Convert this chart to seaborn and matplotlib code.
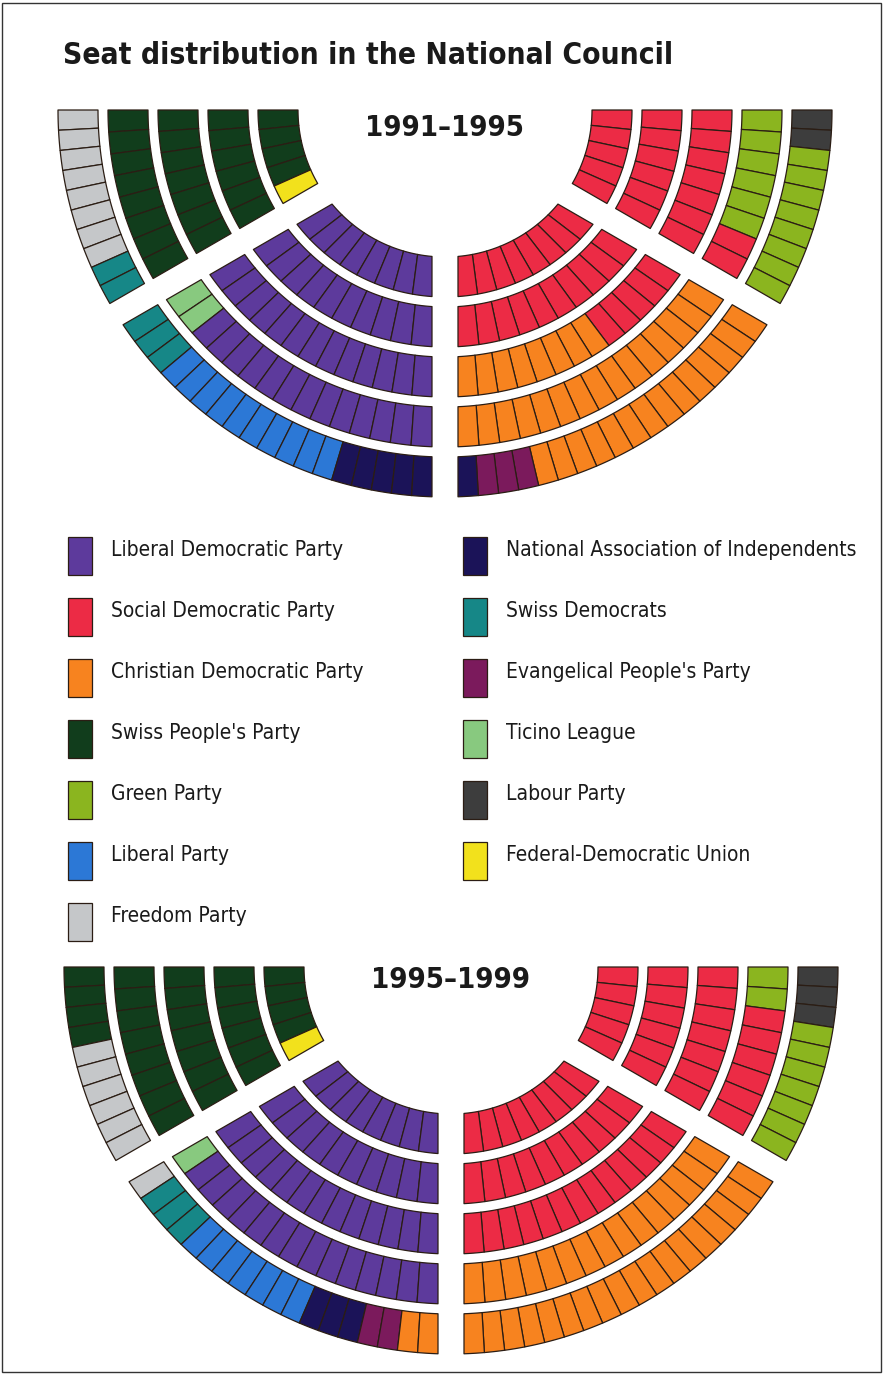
"""
Seat distribution in the Swiss National Council, 1991-1995 and 1995-1999
"""

import numpy as np
import matplotlib
matplotlib.use("Agg")
import matplotlib.pyplot as plt
from matplotlib.patches import Polygon, Rectangle
from matplotlib.collections import PatchCollection
import seaborn as sns

# ---- data ----------------------------------------------------------------
party_keys = ["FDP", "SP", "CVP", "SVP", "GPS", "LPS", "FPS",
              "LdU", "SD", "EVP", "Lega", "PdA", "EDU"]
party_names = ["Liberal Democratic Party", "Social Democratic Party",
               "Christian Democratic Party", "Swiss People's Party",
               "Green Party", "Liberal Party", "Freedom Party",
               "National Association of Independents", "Swiss Democrats",
               "Evangelical People's Party", "Ticino League", "Labour Party",
               "Federal-Democratic Union"]
party_colors = ["#5d3a9c", "#ec2b45", "#f7831f", "#113d1c", "#8bb51f",
                "#2c78d6", "#c5c7c9", "#1b1358", "#168787", "#7b1a5c",
                "#88c97f", "#3d3d3d", "#f2e11c"]

# rows innermost first; seats counted from the top of the wing towards the centre
left_outer_1991 = [[("SVP", 4), ("EDU", 1)], [("SVP", 6)], [("SVP", 7)],
                   [("SVP", 8)], [("FPS", 8), ("SD", 2)]]
left_inner_1991 = [[("FDP", 8)], [("FDP", 10)], [("FDP", 13)],
                   [("Lega", 2), ("FDP", 13)],
                   [("SD", 3), ("LPS", 10), ("LdU", 5)]]
right_outer_1991 = [[("SP", 5)], [("SP", 6)], [("SP", 7)],
                    [("GPS", 6), ("SP", 2)], [("PdA", 2), ("GPS", 8)]]
right_inner_1991 = [[("SP", 8)], [("SP", 10)], [("SP", 5), ("CVP", 8)],
                    [("CVP", 15)], [("CVP", 14), ("EVP", 3), ("LdU", 1)]]

left_outer_1995 = [[("SVP", 4), ("EDU", 1)], [("SVP", 6)], [("SVP", 7)],
                   [("SVP", 8)], [("SVP", 4), ("FPS", 6)]]
left_inner_1995 = [[("FDP", 8)], [("FDP", 10)], [("FDP", 13)],
                   [("Lega", 1), ("FDP", 14)],
                   [("FPS", 1), ("SD", 3), ("LPS", 7), ("LdU", 3),
                    ("EVP", 2), ("CVP", 2)]]
right_outer_1995 = [[("SP", 5)], [("SP", 6)], [("SP", 7)],
                    [("GPS", 2), ("SP", 6)], [("PdA", 3), ("GPS", 7)]]
right_inner_1995 = [[("SP", 8)], [("SP", 10)], [("SP", 13)],
                    [("CVP", 15)], [("CVP", 18)]]

# ---- layout (pixels) -----------------------------------------------------
W, H = 883, 1374
R0, ROW_STEP, ROW_DEPTH = 147, 50, 40
SPLIT = 30.0        # angle below horizontal where the outer blocks end
SPLIT_GAP = 25.0    # offset of the inner block from that line
MID_GAP = 13.0      # half width of the central aisle
EDGE = "#2b1d14"

color_of = dict(zip(party_keys, party_colors))


def row_limits(r, sector):
    if sector == "outer":
        return 0.0, SPLIT
    start = SPLIT + np.degrees(np.arcsin(SPLIT_GAP / r))
    end = np.degrees(np.arccos(MID_GAP / r))
    return start, end


def draw_wing(ax, cx, cy, side, sector, rows):
    sign = -1 if side == "left" else 1
    patches, colors = [], []
    for i, row in enumerate(rows):
        r_in = R0 + i * ROW_STEP
        r_out = r_in + ROW_DEPTH
        a0i, a1i = row_limits(r_in, sector)
        a0o, a1o = row_limits(r_out, sector)
        seats = [k for k, c in row for _ in range(c)]
        n = len(seats)
        for s, key in enumerate(seats):
            t0, t1 = s / n, (s + 1) / n
            ai = np.radians(np.linspace(a0i + t0 * (a1i - a0i), a0i + t1 * (a1i - a0i), 10))
            ao = np.radians(np.linspace(a0o + t1 * (a1o - a0o), a0o + t0 * (a1o - a0o), 10))
            xs = np.concatenate([cx + sign * r_in * np.cos(ai), cx + sign * r_out * np.cos(ao)])
            ys = np.concatenate([cy + r_in * np.sin(ai), cy + r_out * np.sin(ao)])
            patches.append(Polygon(np.column_stack([xs, ys]), closed=True))
            colors.append(color_of[key])
    pc = PatchCollection(patches, facecolors=colors, edgecolors=EDGE, linewidths=0.9)
    ax.add_collection(pc)


sns.set_theme(style="white")
plt.rcParams["font.family"] = ["DejaVu Sans"]
plt.rcParams["font.stretch"] = "condensed"

fig = plt.figure(figsize=(W / 100, H / 100), dpi=100)
ax = fig.add_axes([0, 0, 1, 1])
ax.set_xlim(0, W)
ax.set_ylim(H, 0)
ax.axis("off")

chambers = [
    (445, 110, "1991\u20131995", left_outer_1991, left_inner_1991,
     right_outer_1991, right_inner_1991, 128),
    (451, 967, "1995\u20131999", left_outer_1995, left_inner_1995,
     right_outer_1995, right_inner_1995, 980),
]
for cx, cy, label, lo, li, ro, ri, ly in chambers:
    draw_wing(ax, cx, cy, "left", "outer", lo)
    draw_wing(ax, cx, cy, "left", "inner", li)
    draw_wing(ax, cx, cy, "right", "outer", ro)
    draw_wing(ax, cx, cy, "right", "inner", ri)
    ax.text(cx - 1, ly, label, ha="center", va="center", fontsize=21,
            fontweight="bold", fontstretch="condensed", color="#1a1a1a")

ax.text(63, 55, "Seat distribution in the National Council", ha="left",
        va="center", fontsize=21.5, fontweight="bold", fontstretch="condensed",
        color="#1a1a1a")

# legend, two columns
for i, (name, col) in enumerate(zip(party_names, party_colors)):
    c, r = divmod(i, 7)
    x0 = 68 + c * 395
    y0 = 550 + r * 61
    ax.add_patch(Rectangle((x0, y0 - 13), 24, 38, facecolor=col,
                           edgecolor=EDGE, linewidth=0.9))
    ax.text(x0 + 43, y0, name, ha="left", va="center", fontsize=15,
            fontstretch="condensed", color="#1a1a1a")

# thin frame round the page
ax.add_patch(Rectangle((2, 3), W - 4, H - 5, fill=False, edgecolor="#333333",
                       linewidth=1.0))

fig.savefig("out.png", dpi=100)
